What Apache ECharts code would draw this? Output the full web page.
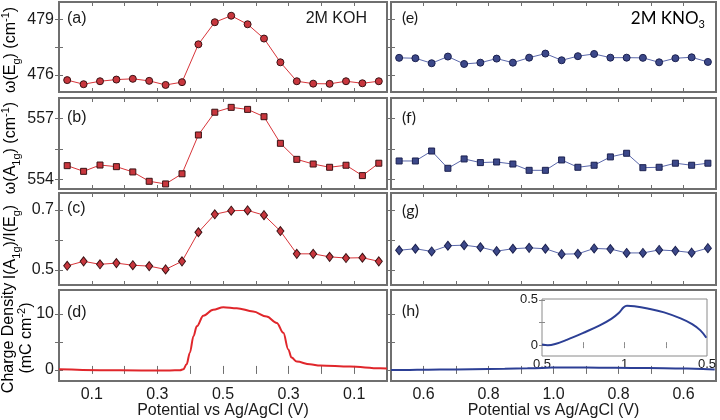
<!DOCTYPE html>
<head>
    <meta charset="utf-8">
    <title>Raman / charge density</title>
    <style>
        html, body { margin: 0; padding: 0; background: #fff; }
        #main { width: 720px; height: 420px; }
    </style>
</head>
<body>
<div id="main"></div>

<script src="https://cdn.jsdelivr.net/npm/echarts@6/dist/echarts.min.js"></script>
<script type="text/javascript">
    // sweep positions (axis runs 0..10 in tick units)
    var sweepX = [0.25, 0.75, 1.25, 1.75, 2.25, 2.75, 3.25, 3.75, 4.25, 4.75,
                  5.25, 5.75, 6.25, 6.75, 7.25, 7.75, 8.25, 8.75, 9.25, 9.75];

    // 2M KOH
    var kohEg = [475.72, 475.50, 475.66, 475.75, 475.79, 475.68, 475.46, 475.61, 477.65, 478.84,
                 479.19, 478.73, 477.96, 476.68, 475.66, 475.53, 475.52, 475.66, 475.55, 475.66];
    var kohA1g = [554.67, 554.39, 554.70, 554.62, 554.36, 553.90, 553.77, 554.27, 556.18, 557.30,
                  557.54, 557.44, 557.08, 555.77, 554.98, 554.75, 554.59, 554.69, 554.18, 554.79];
    var kohRatio = [0.514, 0.529, 0.519, 0.523, 0.516, 0.513, 0.502, 0.529, 0.626, 0.686,
                    0.698, 0.699, 0.683, 0.630, 0.554, 0.554, 0.544, 0.540, 0.541, 0.529];
    var kohCharge = [[0, 0.1], [1.25, -0.05], [2.5, -0.1], [3.38, -0.1], [3.69, -0.05], [3.79, 0.12],
                     [3.89, 1.0], [3.99, 3.07], [4.10, 6.0], [4.20, 7.76], [4.40, 9.65], [4.70, 10.7],
                     [5.01, 11.18], [5.42, 11.0], [5.92, 10.4], [6.33, 9.5], [6.64, 8.36], [6.84, 6.6],
                     [6.99, 3.65], [7.09, 2.19], [7.25, 1.48], [7.65, 1.0], [7.96, 0.78], [8.87, 0.6],
                     [9.79, 0.3], [10, 0.25]];

    // 2M KNO3
    var kno3Eg = [476.92, 476.90, 476.63, 476.99, 476.59, 476.66, 476.88, 476.66, 476.93, 477.15,
                  476.79, 477.01, 477.13, 476.93, 476.93, 476.92, 476.68, 476.90, 476.95, 476.70];
    var kno3A1g = [554.90, 554.90, 555.39, 554.54, 555.00, 554.82, 554.85, 554.75, 554.44, 554.44,
                   554.95, 554.59, 554.69, 555.10, 555.28, 554.57, 554.59, 554.79, 554.69, 554.79];
    var kno3Ratio = [0.566, 0.571, 0.562, 0.581, 0.583, 0.576, 0.563, 0.571, 0.574, 0.571,
                     0.553, 0.554, 0.572, 0.570, 0.557, 0.557, 0.567, 0.564, 0.558, 0.573];
    var kno3Charge = [[0, 0.006], [0.35, -0.002], [0.8, 0.012], [1.5, 0.058], [2.5, 0.135], [3.5, 0.218],
                      [4.2, 0.29], [4.65, 0.355], [4.95, 0.418], [5.15, 0.436], [5.6, 0.431],
                      [6.4, 0.406], [7.4, 0.362], [8.4, 0.295], [9.1, 0.232], [9.6, 0.163], [9.96, 0.081]];

    // tick labels
    var xTickPos = [1, 2, 3, 4, 5, 6, 7, 8, 9];
    var xLabelPos = [1, 3, 5, 7, 9];
    var kohXLabels = ['0.1', '0.3', '0.5', '0.3', '0.1'];
    var kno3XLabels = ['0.6', '0.8', '1.0', '0.8', '0.6'];
    var yTicks = [[476, 477.5, 479], [554, 555.5, 557], [0.5, 0.6, 0.7], [0, 5, 10]];
    var yLabels = [[476, 479], [554, 557], [0.5, 0.7], [0, 10]];
    var yRanges = [[475.08, 479.93], [553.52, 558.0], [0.45, 0.757], [-1.99, 14.23]];
    var insetXLabelPos = [0, 5, 10];
    var insetXLabels = ['0.5', '1', '0.5'];

    var rows = [{top: 2, h: 90}, {top: 98, h: 91}, {top: 193, h: 92}, {top: 290, h: 92}];
    var cols = [{left: 59, w: 328}, {left: 391, w: 325}];

    var frame = '#6f6f6f';
    var txt = '#1a1a1a';
    var FONT = '"Liberation Sans", Arial, sans-serif';

    var grids = [], xAxes = [], yAxes = [], series = [];

    function labelFor(list, pos) {
        return function (v) {
            var i = pos.indexOf(Math.round(v * 100) / 100);
            return i < 0 ? '' : list[i];
        };
    }

    for (var c = 0; c < 2; c++) {
        for (var r = 0; r < 4; r++) {
            var g = grids.length;
            grids.push({
                left: cols[c].left, top: rows[r].top, width: cols[c].w, height: rows[r].h,
                show: true, borderColor: frame, borderWidth: 2, backgroundColor: 'transparent'
            });
            var tick = {show: true, inside: true, length: 4, lineStyle: {color: frame, width: 1}};
            var isBottom = r === 3;
            xAxes.push({
                type: 'value', gridIndex: g, min: 0, max: 10, position: 'bottom',
                axisLine: {show: false}, splitLine: {show: false},
                axisTick: Object.assign({customValues: xTickPos}, tick),
                axisLabel: {
                    show: isBottom, customValues: xLabelPos, margin: 5,
                    fontSize: 16, color: txt, fontFamily: FONT,
                    formatter: labelFor(c === 0 ? kohXLabels : kno3XLabels, xLabelPos)
                },
                name: isBottom ? 'Potential vs Ag/AgCl (V)' : '',
                nameLocation: 'middle', nameGap: 20,
                nameTextStyle: {fontSize: 16, color: txt, fontFamily: FONT}
            });
            xAxes.push({
                type: 'value', gridIndex: g, min: 0, max: 10, position: 'top',
                axisLine: {show: false}, splitLine: {show: false},
                axisTick: Object.assign({customValues: xTickPos}, tick),
                axisLabel: {show: false}
            });
            yAxes.push({
                type: 'value', gridIndex: g, min: yRanges[r][0], max: yRanges[r][1], position: 'left',
                axisLine: {show: false}, splitLine: {show: false},
                axisTick: Object.assign({customValues: yTicks[r]}, tick),
                axisLabel: {
                    show: c === 0, customValues: yLabels[r], margin: 5,
                    fontSize: 16, color: txt, fontFamily: FONT
                }
            });
            yAxes.push({
                type: 'value', gridIndex: g, min: yRanges[r][0], max: yRanges[r][1], position: 'right',
                axisLine: {show: false}, splitLine: {show: false},
                axisTick: Object.assign({customValues: yTicks[r]}, tick),
                axisLabel: {show: false}
            });
        }
    }

    function pairs(ys) {
        return sweepX.map(function (x, i) { return [x, ys[i]]; });
    }

    var red = {line: '#d8353a', fill: '#c8363d', border: '#3a1214'};
    var blue = {line: '#5b68ab', fill: '#3c4889', border: '#1b2150'};
    var symbols = [['circle', 7], ['rect', 6], ['diamond', [7, 9]]];
    var pointSets = [[kohEg, kohA1g, kohRatio], [kno3Eg, kno3A1g, kno3Ratio]];

    for (var c2 = 0; c2 < 2; c2++) {
        var col = c2 === 0 ? red : blue;
        for (var r2 = 0; r2 < 3; r2++) {
            var gi = c2 * 4 + r2;
            series.push({
                type: 'line', xAxisIndex: gi * 2, yAxisIndex: gi * 2,
                data: pairs(pointSets[c2][r2]),
                symbol: symbols[r2][0], symbolSize: symbols[r2][1], showAllSymbol: true,
                lineStyle: {color: col.line, width: 1},
                itemStyle: {color: col.fill, borderColor: col.border, borderWidth: 1}
            });
        }
    }

    series.push({
        type: 'line', xAxisIndex: 6, yAxisIndex: 6, data: kohCharge,
        showSymbol: false, smooth: 0.35, smoothMonotone: 'x',
        lineStyle: {color: '#e0262b', width: 2}
    });
    series.push({
        type: 'line', xAxisIndex: 14, yAxisIndex: 14, data: kno3Charge,
        showSymbol: false, smooth: 0.4,
        lineStyle: {color: '#2c3f95', width: 2}
    });

    // inset of (h)
    grids.push({
        left: 542, top: 299, width: 165, height: 57,
        show: true, borderColor: '#8a8a8a', borderWidth: 1, backgroundColor: '#fff'
    });
    var itick = {show: true, inside: true, length: 3, lineStyle: {color: '#8a8a8a', width: 1}};
    xAxes.push({
        type: 'value', gridIndex: 8, min: 0, max: 10, position: 'bottom',
        axisLine: {show: false}, splitLine: {show: false},
        axisTick: Object.assign({customValues: [2.5, 5, 7.5]}, itick),
        axisLabel: {
            customValues: insetXLabelPos, margin: 2, fontSize: 13, color: txt, fontFamily: FONT,
            formatter: labelFor(insetXLabels, insetXLabelPos)
        }
    });
    xAxes.push({
        type: 'value', gridIndex: 8, min: 0, max: 10, position: 'top',
        axisLine: {show: false}, splitLine: {show: false},
        axisTick: Object.assign({customValues: [2.5, 5, 7.5]}, itick),
        axisLabel: {show: false}
    });
    yAxes.push({
        type: 'value', gridIndex: 8, min: -0.12, max: 0.51, position: 'left',
        axisLine: {show: false}, splitLine: {show: false},
        axisTick: Object.assign({customValues: [0, 0.25, 0.5]}, itick),
        axisLabel: {customValues: [0, 0.5], margin: 4, fontSize: 13, color: txt, fontFamily: FONT}
    });
    yAxes.push({
        type: 'value', gridIndex: 8, min: -0.12, max: 0.51, position: 'right',
        axisLine: {show: false}, splitLine: {show: false},
        axisTick: Object.assign({customValues: [0, 0.25, 0.5]}, itick),
        axisLabel: {show: false}
    });
    series.push({
        type: 'line', xAxisIndex: 16, yAxisIndex: 16, data: kno3Charge,
        showSymbol: false, smooth: 0.4,
        lineStyle: {color: '#2c3f95', width: 2}
    });

    var rich = {
        n: {fontSize: 16, lineHeight: 22, verticalAlign: 'middle', fontFamily: FONT, color: txt},
        s: {fontSize: 11, verticalAlign: 'bottom', fontFamily: FONT, color: txt},
        p: {fontSize: 11, verticalAlign: 'top', fontFamily: FONT, color: txt}
    };

    function vText(x, y, text) {
        return {
            type: 'text', x: x, y: y, rotation: Math.PI / 2,
            style: {text: text, rich: rich, align: 'center', verticalAlign: 'middle'}
        };
    }
    function pText(x, y, text, align, font) {
        return {
            type: 'text', x: x, y: y,
            style: {text: text, align: align || 'left', verticalAlign: 'middle',
                    font: '16px ' + (font || FONT), fill: txt}
        };
    }

    var CAL = 'Lato, "Open Sans", sans-serif';
    var graphics = [
        vText(11, 50, '{n|ω(E}{s|g}{n|) (cm}{p|-1}{n|)}'),
        vText(11, 148, '{n|ω(A}{s|1g}{n|) (cm}{p|-1}{n|)}'),
        vText(11, 242, '{n|I(A}{s|1g}{n|)/I(E}{s|g}{n|)}'),
        vText(9, 338, '{n|Charge Density}'),
        vText(27, 338, '{n|(mC cm}{p|-2}{n|)}'),
        pText(67, 19, '(a)'),
        pText(67, 118, '(b)'),
        pText(67, 209, '(c)'),
        pText(67, 313, '(d)'),
        pText(367, 19, '2M KOH', 'right'),
        pText(402, 18, '(e)', 'left', CAL),
        pText(402, 118, '(f)', 'left', CAL),
        pText(402, 211, '(g)', 'left', CAL),
        pText(402, 311, '(h)', 'left', CAL),
        {
            type: 'text', x: 705, y: 19,
            style: {
                text: '{n|2M KNO}{s|3}', align: 'right', verticalAlign: 'middle',
                rich: {
                    n: {fontSize: 17, lineHeight: 22, verticalAlign: 'middle', fontFamily: CAL, color: txt},
                    s: {fontSize: 11, verticalAlign: 'bottom', fontFamily: CAL, color: txt}
                }
            }
        }
    ];

    var chart = echarts.init(document.getElementById('main'), null, {renderer: 'canvas'});
    chart.setOption({
        backgroundColor: '#fff',
        animation: false,
        grid: grids,
        xAxis: xAxes,
        yAxis: yAxes,
        series: series,
        graphic: graphics
    });
</script>
</body>
